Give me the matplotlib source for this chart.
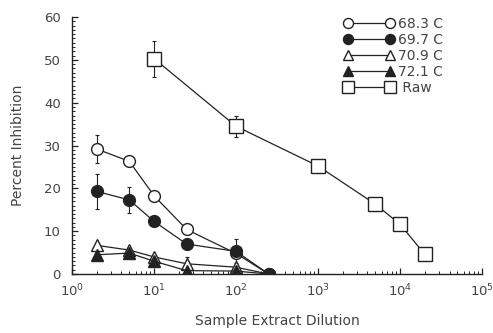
import numpy as np
import matplotlib.pyplot as plt
from matplotlib.ticker import LogLocator, MultipleLocator, NullFormatter

# dilution series (x) and percent inhibition per extraction temperature
dil = [2, 5, 10, 25, 100, 250]
c683 = [29.2, 26.3, 18.3, 10.4, 4.8, 0.0]
c683_err = [3.3, 0.5, 0.5, 0.5, 0.5, 0.0]
c697 = [19.3, 17.3, 12.3, 7.0, 5.3, 0.0]
c697_err = [4.0, 3.0, 0.5, 0.5, 2.8, 0.0]
c709 = [6.7, 5.6, 4.0, 2.4, 1.6, 0.0]
c709_err = [0.5, 0.5, 0.5, 1.5, 0.5, 0.0]
c721 = [4.5, 4.9, 3.0, 0.8, 0.7, 0.0]
c721_err = [0.3, 0.3, 0.3, 0.3, 0.3, 0.0]

raw_dil = [10, 100, 1000, 5000, 10000, 20000]
raw = [50.3, 34.5, 25.2, 16.3, 11.6, 4.6]
raw_err = [4.2, 2.5, 1.5, 1.5, 1.3, 0.0]

labels = ['68.3 C', '69.7 C', '70.9 C', '72.1 C', ' Raw']

ink = '#222222'
txt = '#444444'

fig = plt.figure(figsize=(4.93, 3.33), dpi=100)
ax = fig.add_axes([0.146, 0.177, 0.832, 0.772])

series = [
    (dil, c683, c683_err, 'o', 'white', 8.5),
    (dil, c697, c697_err, 'o', ink, 8.5),
    (dil, c709, c709_err, '^', 'white', 8),
    (dil, c721, c721_err, '^', ink, 8),
    (raw_dil, raw, raw_err, 's', 'white', 9.5),
]

handles = []
for (x, y, e, m, fc, ms), lab in zip(series, labels):
    ax.errorbar(x, y, yerr=e, fmt='none', ecolor=ink, elinewidth=0.8,
                capsize=1.5, capthick=0.8, zorder=2)
    h, = ax.plot(x, y, color=ink, lw=0.9, marker=m, ms=ms, mfc=fc,
                 mec=ink, mew=1.0, label=lab, zorder=3)
    handles.append(h)

ax.set_xscale('log')
ax.set_xlim(1, 1e5)
ax.set_ylim(0, 60)
ax.xaxis.set_major_locator(LogLocator(base=10, numticks=10))
ax.xaxis.set_minor_locator(LogLocator(base=10, subs=np.arange(2, 10), numticks=10))
ax.xaxis.set_minor_formatter(NullFormatter())
ax.yaxis.set_major_locator(MultipleLocator(10))
ax.yaxis.set_minor_locator(MultipleLocator(1))

for s in ['top', 'right']:
    ax.spines[s].set_visible(False)
for s in ['left', 'bottom']:
    ax.spines[s].set_color(ink)
    ax.spines[s].set_linewidth(1.0)

ax.tick_params(which='both', direction='in', color=ink, labelcolor=txt, labelsize=9.5)
ax.tick_params(which='major', length=4, width=0.9)
ax.tick_params(which='minor', length=2, width=0.7)
ax.tick_params(axis='x', which='major', pad=6)
ax.tick_params(axis='y', which='major', pad=8)

ax.set_xlabel('Sample Extract Dilution', color=txt, fontsize=10, labelpad=11)
ax.set_ylabel('Percent Inhibition', color=txt, fontsize=10, labelpad=14)

leg = ax.legend(handles=handles, loc='upper right', bbox_to_anchor=(0.935, 1.05),
                frameon=False, numpoints=2, handlelength=3.6, handletextpad=0.3,
                labelspacing=0.15, fontsize=10, markerscale=0.85)
for t in leg.get_texts():
    t.set_color(txt)

fig.savefig('out.png', dpi=100)
